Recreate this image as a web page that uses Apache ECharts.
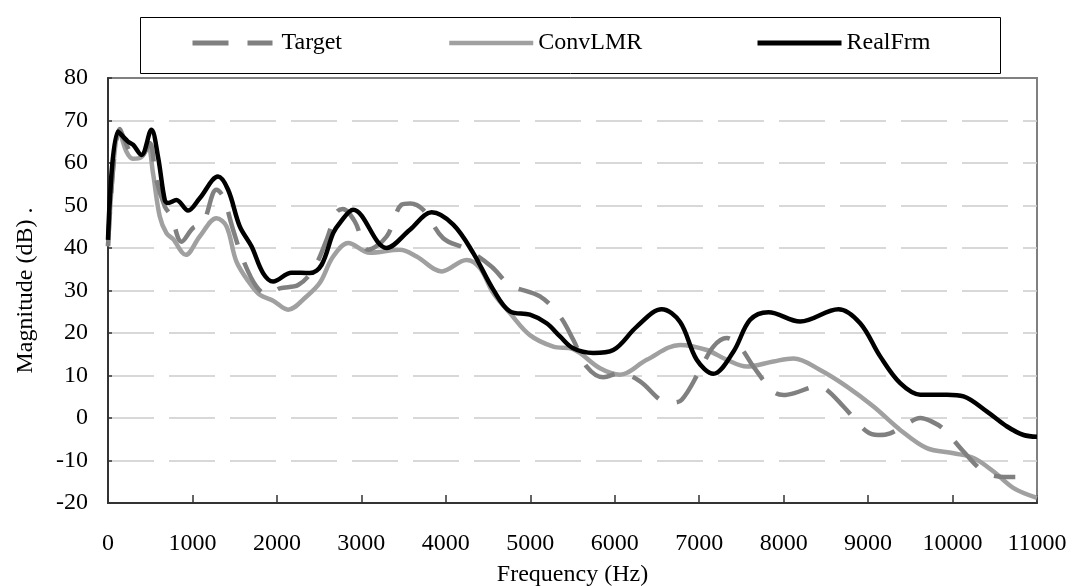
<!DOCTYPE html>
<html>
<head>
<meta charset="utf-8">
<script src="https://cdn.jsdelivr.net/npm/echarts@6/dist/echarts.min.js"></script>
<style>
  html, body { margin: 0; padding: 0; background: #fff; }
  #main { width: 1072px; height: 586px; }
</style>
</head>
<body>
<div id="main"></div>
<script>
// ============ data ====================================
const xTicks = [0, 1000, 2000, 3000, 4000, 5000, 6000, 7000, 8000, 9000, 10000, 11000];
const yTicks = [-20, -10, 0, 10, 20, 30, 40, 50, 60, 70, 80];

const targetFreq = [0, 139, 237, 316, 415, 494, 573, 672, 751, 870, 1007, 1126, 1284, 1363, 1481, 1600, 1758, 1896, 2034, 2251, 2429, 2588, 2706, 2780, 2923, 3081, 3299, 3476, 3580, 3732, 3969, 4246, 4543, 4759, 5115, 5352, 5509, 5668, 5865, 6063, 6300, 6537, 6660, 6794, 7010, 7168, 7327, 7480, 7642, 7879, 8000, 8136, 8393, 8512, 8708, 8985, 9120, 9261, 9450, 9617, 9750, 9893, 10130, 10367, 10565, 10743];
const targetDb = [40.5, 68, 63.5, 61.2, 61.9, 64.7, 56, 49.8, 47.4, 41.5, 44.7, 45.9, 53.7, 52.1, 44.3, 37.2, 30.9, 29.0, 30.5, 31.3, 34.9, 41.9, 48.4, 49.2, 46.2, 39.6, 42.7, 50.2, 50.5, 49.0, 42.3, 39.7, 35.6, 31.3, 28.6, 23.9, 18.4, 12.1, 9.6, 10.6, 8.6, 4.3, 3.6, 4.3, 11.3, 16.8, 18.8, 16.8, 12.1, 6.2, 5.4, 5.9, 7.4, 6.6, 2.7, -3.2, -4.0, -3.6, -1.5, 0.0, -0.8, -2.6, -7.9, -12.6, -13.8, -13.9];

const convFreq = [0, 131, 218, 296, 396, 474, 533, 613, 692, 770, 921, 1086, 1284, 1403, 1521, 1679, 1797, 1955, 2133, 2351, 2508, 2666, 2844, 3101, 3456, 3654, 3950, 4246, 4404, 4562, 4759, 4996, 5273, 5509, 5826, 6063, 6379, 6774, 7090, 7327, 7564, 7879, 8116, 8432, 8749, 9064, 9380, 9696, 10012, 10249, 10486, 10723, 11000];
const convDb = [40.4, 67.8, 62.7, 61.0, 61.4, 63.9, 57.6, 47.4, 43.5, 42.1, 38.4, 42.7, 47.0, 45.1, 36.8, 31.7, 29.0, 27.6, 25.5, 28.6, 31.8, 38.0, 41.2, 38.9, 39.6, 38.0, 34.5, 37.2, 35.3, 29.4, 24.7, 19.5, 16.8, 16.2, 11.7, 10.2, 13.7, 17.2, 16.0, 13.7, 12.1, 13.3, 14.0, 11.3, 7.4, 2.7, -2.8, -7.1, -8.3, -9.4, -12.6, -16.5, -18.8];

const realFreq = [0, 118, 233, 296, 396, 514, 592, 672, 711, 810, 948, 1086, 1303, 1422, 1560, 1699, 1836, 1955, 2173, 2390, 2528, 2666, 2745, 2903, 3299, 3575, 3832, 4088, 4325, 4562, 4759, 4996, 5194, 5352, 5509, 5746, 5983, 6261, 6557, 6774, 6971, 7168, 7405, 7603, 7820, 8195, 8649, 8906, 9143, 9380, 9617, 9934, 10130, 10408, 10645, 10841, 11000];
const realDb = [41.9, 67.4, 65.1, 64.3, 61.9, 67.8, 61.5, 51.3, 50.6, 51.3, 48.8, 51.7, 56.8, 53.7, 45.1, 40.4, 34.1, 32.1, 34.2, 34.1, 36.0, 43.5, 45.9, 49.0, 40.0, 44.3, 48.4, 45.5, 38.8, 30.2, 25.1, 24.3, 22.3, 19.2, 16.4, 15.3, 16.0, 21.5, 25.6, 22.6, 13.7, 10.4, 15.6, 23.1, 24.9, 22.7, 25.6, 22.3, 14.5, 8.2, 5.5, 5.5, 5.1, 1.5, -2.0, -4.0, -4.4];

const pairs = (xs, ys) => xs.map((x, i) => [x, ys[i]]);

const font = 'Liberation Serif';
const myChart = echarts.init(document.getElementById('main'));

const legendText = { fontFamily: font, fontSize: 24, color: '#000' };

const option = {
  backgroundColor: '#fff',
  animation: false,
  // legend frame
  graphic: [{
    type: 'rect',
    left: 138,
    top: 15,
    shape: { width: 860, height: 56 },
    style: { fill: 'none', stroke: '#000', lineWidth: 1 }
  }],
  legend: [
    {
      data: ['Target'], left: 190, top: 31, padding: 0,
      itemWidth: 80, itemHeight: 14,
      itemStyle: { opacity: 0 },
      lineStyle: { width: 5, type: [36, 19] },
      textStyle: { ...legendText, padding: [0, 0, 0, 4] }
    },
    {
      data: ['ConvLMR'], left: 447, top: 31, padding: 0,
      itemWidth: 84, itemHeight: 14,
      itemStyle: { opacity: 0 },
      lineStyle: { width: 4.5 },
      textStyle: legendText
    },
    {
      data: ['RealFrm'], left: 755, top: 31, padding: 0,
      itemWidth: 84, itemHeight: 14,
      itemStyle: { opacity: 0 },
      lineStyle: { width: 5 },
      textStyle: legendText
    }
  ],
  grid: {
    left: 108,
    right: 35,
    top: 78,
    bottom: 83,
    outerBoundsMode: 'none',
    show: true,
    borderColor: '#808080',
    borderWidth: 2,
    backgroundColor: 'transparent'
  },
  xAxis: {
    type: 'value',
    min: xTicks[0],
    max: xTicks[xTicks.length - 1],
    interval: 1000,
    name: 'Frequency (Hz)',
    nameLocation: 'middle',
    nameGap: 60,
    nameTextStyle: { fontFamily: font, fontSize: 24, color: '#000' },
    axisLine: { onZero: false, lineStyle: { color: '#333', width: 2 } },
    axisTick: { inside: true, length: 8, lineStyle: { color: '#333', width: 1.5 } },
    axisLabel: { fontFamily: font, fontSize: 24, color: '#000', margin: 29, formatter: v => String(v) },
    splitLine: { show: false }
  },
  yAxis: {
    type: 'value',
    min: yTicks[0],
    max: yTicks[yTicks.length - 1],
    interval: 10,
    name: 'Magnitude (dB) .',
    nameLocation: 'middle',
    nameGap: 70,
    nameTextStyle: { fontFamily: font, fontSize: 24, color: '#000' },
    axisLine: { show: true, onZero: false, lineStyle: { color: '#333', width: 2 } },
    axisTick: { show: true, inside: true, length: 4, lineStyle: { color: '#333', width: 1.5 } },
    axisLabel: { fontFamily: font, fontSize: 24, color: '#000', margin: 20 },
    splitLine: {
      show: true,
      showMinLine: false,
      showMaxLine: false,
      lineStyle: { color: '#cccccc', width: 1.5, type: [46, 15] }
    }
  },
  series: [
    {
      name: 'Target',
      type: 'line',
      data: pairs(targetFreq, targetDb),
      smooth: 0.35,
      symbol: 'none',
      z: 3,
      itemStyle: { color: '#808080' },
      lineStyle: { color: '#808080', width: 4.5, type: [34, 19] }
    },
    {
      name: 'ConvLMR',
      type: 'line',
      data: pairs(convFreq, convDb),
      smooth: 0.35,
      symbol: 'none',
      z: 2,
      itemStyle: { color: '#a0a0a0' },
      lineStyle: { color: '#a0a0a0', width: 4.5 }
    },
    {
      name: 'RealFrm',
      type: 'line',
      data: pairs(realFreq, realDb),
      smooth: 0.35,
      symbol: 'none',
      z: 4,
      itemStyle: { color: '#000' },
      lineStyle: { color: '#000', width: 4.5 }
    }
  ]
};
myChart.setOption(option);
</script>
</body>
</html>
